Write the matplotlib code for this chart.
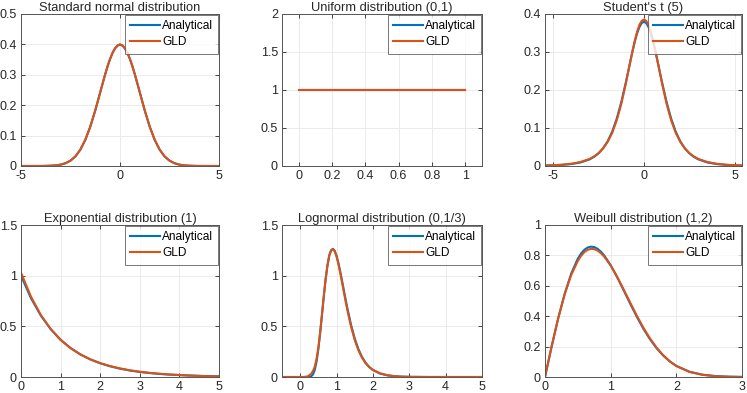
import matplotlib.pyplot as plt

plt.rcParams["font.family"] = ["Liberation Sans", "DejaVu Sans"]

BLUE = "#0072BD"
ORANGE = "#D95319"
TXT = "#262626"

# --- values ---
norm_x = [-5, -4.5, -4, -3.75, -3.5, -3.25, -3, -2.75, -2.5, -2.25, -2, -1.75, -1.5,
          -1.25, -1, -0.875, -0.75, -0.625, -0.5, -0.375, -0.25, -0.125, 0, 0.125, 0.25,
          0.375, 0.5, 0.625, 0.75, 0.875, 1, 1.25, 1.5, 1.75, 2, 2.25, 2.5, 2.75, 3,
          3.25, 3.5, 3.75, 4, 4.5, 5]
norm_ana = [0, 0, 0.0001, 0.0004, 0.0009, 0.002, 0.0044, 0.0091, 0.0175, 0.0317, 0.054,
            0.0863, 0.1295, 0.1826, 0.242, 0.2717, 0.3011, 0.3282, 0.3521, 0.3718, 0.3867,
            0.3958, 0.399, 0.3958, 0.3867, 0.3718, 0.3521, 0.3282, 0.3011, 0.2717, 0.242,
            0.1826, 0.1295, 0.0863, 0.054, 0.0317, 0.0175, 0.0091, 0.0044, 0.002, 0.0009,
            0.0004, 0.0001, 0, 0]
norm_gld = [0, 0, 0.0001, 0.0004, 0.0009, 0.002, 0.0045, 0.0092, 0.0176, 0.0318, 0.0541,
            0.0864, 0.1296, 0.1828, 0.2423, 0.272, 0.3015, 0.3287, 0.3527, 0.3725, 0.3875,
            0.3968, 0.4005, 0.3968, 0.3875, 0.3725, 0.3527, 0.3287, 0.3015, 0.272, 0.2423,
            0.1828, 0.1296, 0.0864, 0.0541, 0.0318, 0.0176, 0.0092, 0.0045, 0.002, 0.0009,
            0.0004, 0.0001, 0, 0]

unif_x = [0, 1]
unif_ana = [1, 1]
unif_gld = [1, 1]

t_x = [-5.5, -5, -4.5, -4, -3.5, -3, -2.75, -2.5, -2.25, -2, -1.75, -1.5, -1.25, -1,
       -0.875, -0.75, -0.625, -0.5, -0.375, -0.25, -0.125, 0, 0.125, 0.25, 0.375, 0.5,
       0.625, 0.75, 0.875, 1, 1.25, 1.5, 1.75, 2, 2.25, 2.5, 2.75, 3, 3.5, 4, 4.5, 5, 5.5]
t_ana = [0.0011, 0.0018, 0.003, 0.0051, 0.0092, 0.0173, 0.0239, 0.0333, 0.0466, 0.0651,
         0.0905, 0.1245, 0.1679, 0.2197, 0.2476, 0.2757, 0.3029, 0.3279, 0.3493, 0.3657,
         0.3761, 0.3796, 0.3761, 0.3657, 0.3493, 0.3279, 0.3029, 0.2757, 0.2476, 0.2197,
         0.1679, 0.1245, 0.0905, 0.0651, 0.0466, 0.0333, 0.0239, 0.0173, 0.0092, 0.0051,
         0.003, 0.0018, 0.0011]
t_gld = [0.0012, 0.002, 0.0035, 0.006, 0.0105, 0.0185, 0.025, 0.034, 0.0465, 0.0635,
         0.087, 0.12, 0.163, 0.216, 0.2455, 0.275, 0.3035, 0.331, 0.3535, 0.3715, 0.382,
         0.3855, 0.382, 0.3715, 0.3535, 0.331, 0.3035, 0.275, 0.2455, 0.216, 0.163, 0.12,
         0.087, 0.0635, 0.0465, 0.034, 0.025, 0.0185, 0.0105, 0.006, 0.0035, 0.002, 0.0012]

exp_x = [0, 0.25, 0.5, 0.75, 1, 1.25, 1.5, 1.75, 2, 2.25, 2.5, 2.75, 3, 3.25, 3.5, 3.75,
         4, 4.25, 4.5, 4.75, 5]
exp_ana = [1, 0.7788, 0.6065, 0.4724, 0.3679, 0.2865, 0.2231, 0.1738, 0.1353, 0.1054,
           0.0821, 0.0639, 0.0498, 0.0388, 0.0302, 0.0235, 0.0183, 0.0143, 0.0111, 0.0087,
           0.0067]
exp_gld = [1.03, 0.795, 0.612, 0.473, 0.366, 0.284, 0.222, 0.174, 0.137, 0.108, 0.085,
           0.066, 0.052, 0.041, 0.032, 0.025, 0.02, 0.015, 0.011, 0.007, 0.004]

logn_x = [-0.5, 0, 0.1, 0.2, 0.3, 0.35, 0.4, 0.45, 0.5, 0.55, 0.6, 0.65, 0.7, 0.75, 0.8,
          0.85, 0.9, 0.95, 1.0, 1.05, 1.1, 1.15, 1.2, 1.25, 1.3, 1.4, 1.5, 1.6, 1.7, 1.8,
          1.9, 2.0, 2.2, 2.4, 2.6, 2.8, 3.0, 3.5, 4, 5]
logn_ana = [0, 0, 0, 0.0001, 0.0059, 0.024, 0.0684, 0.1508, 0.2755, 0.4356, 0.6166,
            0.7987, 0.9645, 1.0995, 1.1958, 1.2503, 1.265, 1.245, 1.1968, 1.1276, 1.0445,
            0.953, 0.8587, 0.7653, 0.6754, 0.5136, 0.3807, 0.2768, 0.1982, 0.1404, 0.0986,
            0.0689, 0.0331, 0.0158, 0.0076, 0.0036, 0.0018, 0.0003, 0.0001, 0]
logn_gld = [0, 0, 0, 0.005, 0.03, 0.058, 0.1, 0.18, 0.29, 0.445, 0.62, 0.8, 0.97, 1.1,
            1.205, 1.248, 1.262, 1.24, 1.19, 1.115, 1.03, 0.935, 0.84, 0.745, 0.655,
            0.495, 0.365, 0.265, 0.19, 0.135, 0.097, 0.07, 0.036, 0.018, 0.008, 0.003,
            0.001, 0, 0, 0]

weib_x = [0, 0.1, 0.2, 0.3, 0.4, 0.5, 0.55, 0.6, 0.65, 0.7, 0.75, 0.8, 0.85, 0.9, 1.0,
          1.1, 1.2, 1.3, 1.4, 1.5, 1.6, 1.7, 1.8, 1.9, 2.0, 2.2, 2.4, 2.6, 2.8, 3.0]
weib_ana = [0, 0.198, 0.3843, 0.5483, 0.6817, 0.7788, 0.8129, 0.8372, 0.852, 0.8577,
            0.8547, 0.8437, 0.8254, 0.8008, 0.7358, 0.656, 0.5686, 0.4797, 0.3945, 0.3162,
            0.2474, 0.189, 0.141, 0.1029, 0.0733, 0.0348, 0.0151, 0.006, 0.0022, 0.0007]
weib_gld = [0, 0.2, 0.385, 0.545, 0.672, 0.764, 0.797, 0.822, 0.837, 0.843, 0.841, 0.832,
            0.815, 0.793, 0.733, 0.658, 0.574, 0.487, 0.402, 0.323, 0.253, 0.193, 0.143,
            0.103, 0.072, 0.033, 0.014, 0.005, 0.0015, 0]

titles = ["Standard normal distribution", "Uniform distribution (0,1)", "Student's t (5)",
          "Exponential distribution (1)", "Lognormal distribution (0,1/3)",
          "Weibull distribution (1,2)"]

panels = [
    (norm_x, norm_ana, norm_gld, (-5, 5), [-5, 0, 5], (0, 0.5), [0, 0.1, 0.2, 0.3, 0.4, 0.5]),
    (unif_x, unif_ana, unif_gld, (-0.1, 1.1), [0, 0.2, 0.4, 0.6, 0.8, 1], (0, 2), [0, 0.5, 1, 1.5, 2]),
    (t_x, t_ana, t_gld, (-5.45, 5.4), [-5, 0, 5], (0, 0.4), [0, 0.1, 0.2, 0.3, 0.4]),
    (exp_x, exp_ana, exp_gld, (0, 5), [0, 1, 2, 3, 4, 5], (0, 1.5), [0, 0.5, 1, 1.5]),
    (logn_x, logn_ana, logn_gld, (-0.5, 5), [0, 1, 2, 3, 4, 5], (0, 1.5), [0, 0.5, 1, 1.5]),
    (weib_x, weib_ana, weib_gld, (0, 3), [0, 1, 2, 3], (0, 1), [0, 0.2, 0.4, 0.6, 0.8, 1]),
]

W, H = 747, 393
fig = plt.figure(figsize=(W / 100, H / 100), dpi=100)

lefts = [21, 282, 545]
widths = [198, 200, 197]
tops = [14, 225]
ah = 152

for i, (x, ya, yg, xl, xt, yl, yt) in enumerate(panels):
    r, c = divmod(i, 3)
    ax = fig.add_axes([lefts[c] / W, (H - tops[r] - ah) / H, widths[c] / W, ah / H])
    ax.plot(x, ya, color=BLUE, lw=1.5, label="Analytical")
    ax.plot(x, yg, color=ORANGE, lw=1.5, label="GLD")
    ax.set_xlim(*xl)
    ax.set_ylim(*yl)
    ax.set_xticks(xt)
    ax.set_yticks(yt)
    ax.set_xticklabels([f"{v:g}" for v in xt])
    ax.set_yticklabels([f"{v:g}" for v in yt])
    ax.grid(True, color="#ebebeb", lw=0.7)
    ax.set_axisbelow(True)
    ax.tick_params(direction="in", length=3, width=0.6, top=True, right=True,
                   labelsize=9, colors=TXT, pad=3)
    for s in ax.spines.values():
        s.set_color("#555555")
        s.set_linewidth(0.7)
    ax.set_title(titles[i], fontsize=9.3, color=TXT, pad=2)
    leg = ax.legend(loc="upper right", fontsize=8.6, frameon=True, fancybox=False,
                    borderaxespad=0.05, handlelength=2.5, handletextpad=0.15,
                    borderpad=0.45, labelspacing=0.35)
    leg.get_frame().set_edgecolor("#555555")
    leg.get_frame().set_linewidth(0.7)

fig.savefig("out.png", dpi=100)
